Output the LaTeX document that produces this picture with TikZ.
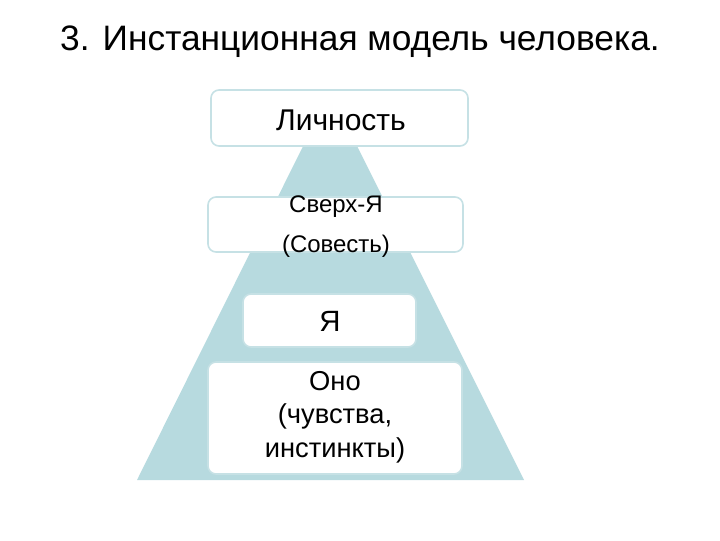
\documentclass[tikz,border=0pt]{standalone}
\usepackage{fontspec}
\setmainfont{Liberation Sans}
\definecolor{tri}{HTML}{B7DADF}
\definecolor{bord}{HTML}{C6E1E5}
\begin{document}
\begin{tikzpicture}[x=0.75pt,y=-0.75pt,
  box/.style={draw=bord,line width=1.2pt,fill=white,rounded corners=6pt}]
\useasboundingbox (0,0) rectangle (720,540);
\fill[tri] (330,92) -- (524,480) -- (137,480) -- cycle;
\node[font=\fontsize{26.5}{30}\selectfont] (title) at (360,42) {3. Инстанционная модель человека.};
\draw[box] (211,90) rectangle (468,146);
\node[font=\fontsize{22.5}{26}\selectfont] (l) at (341,120) {Личность};
\draw[box] (208,197) rectangle (463,252);
\node[font=\fontsize{18}{30}\selectfont,align=center] (s) at (336,227) {Сверх-Я\\(Совесть)};
\draw[box] (243,294) rectangle (416,347);
\node[font=\fontsize{22}{26}\selectfont] (ya) at (330,321) {Я};
\draw[box] (208,362) rectangle (462,474);
\node[font=\fontsize{20.5}{25}\selectfont,align=center] (ono) at (335,417) {Оно\\(чувства,\\инстинкты)};
\end{tikzpicture}
\end{document}
